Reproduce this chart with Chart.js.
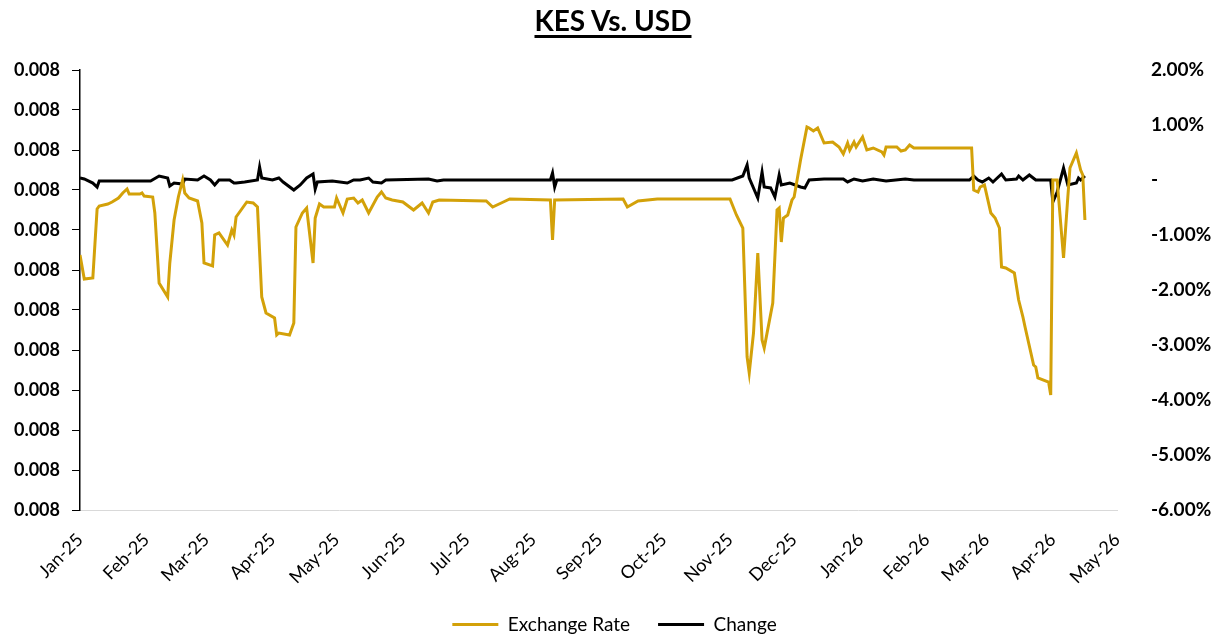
<!DOCTYPE html>
<html>
<head>
<meta charset="utf-8">
<script src="https://cdn.jsdelivr.net/npm/chart.js@4.4.1/dist/chart.umd.min.js"></script>
<style>
  html, body { margin: 0; padding: 0; background: #fff; }
  #wrap { position: relative; width: 1221px; height: 637px; }
  #title {
    position: absolute; left: 0; top: 3px; width: 1226px; text-align: center;
    font-family: Lato, "Open Sans", sans-serif; font-weight: bold; font-size: 28px;
    color: #000; text-decoration: underline; text-decoration-thickness: 3px;
    text-underline-offset: 4px;
  }
</style>
</head>
<body>
<div id="wrap">
  <div id="title">KES Vs. USD</div>
  <canvas id="chart" width="1221" height="637"></canvas>
</div>
<script>
// Month ticks on the x axis (days since 1 Jan 2025)
const monthDays = [0, 31, 59, 90, 120, 151, 181, 212, 243, 273, 304, 334, 365, 396, 424, 455, 485];
const monthLabels = ['Jan-25', 'Feb-25', 'Mar-25', 'Apr-25', 'May-25', 'Jun-25', 'Jul-25', 'Aug-25',
    'Sep-25', 'Oct-25', 'Nov-25', 'Dec-25', 'Jan-26', 'Feb-26', 'Mar-26', 'Apr-26', 'May-26'];

// Exchange rate (USD per KES)
const rateDays = [0, 2, 6, 8, 9, 13, 15, 18, 20, 22, 23, 28, 29, 30, 34, 35, 37, 41, 42, 44, 46, 48, 49, 51, 55,
    57, 58, 62, 63, 65, 69, 71, 72, 73, 78, 81, 83, 85, 87, 91, 92, 93, 98, 100, 101, 104, 106, 109, 110, 112,
    114, 119, 120, 123, 125, 128, 130, 132, 135, 139, 141, 143, 146, 151, 156, 160, 163, 165, 168, 190, 193,
    198, 201, 220, 221, 222, 254, 256, 261, 270, 304, 307, 310, 312, 313, 315, 317, 319, 320, 324, 326, 327,
    328, 329, 331, 333, 334, 337, 340, 341, 343, 345, 348, 352, 355, 357, 359, 360, 362, 363, 366, 368, 371,
    375, 376, 377, 382, 384, 386, 388, 390, 417, 418, 420, 421, 423, 426, 428, 430, 431, 433, 437, 439, 441,
    442, 446, 447, 448, 453, 454, 455, 457, 460, 462, 463, 466, 468, 469, 470];
const rateValues = [0.0077455, 0.0077431, 0.0077432, 0.0077501, 0.0077504, 0.0077506, 0.0077508, 0.0077512,
    0.0077517, 0.0077521, 0.0077516, 0.0077516, 0.0077517, 0.0077514, 0.0077513, 0.0077497, 0.0077427,
    0.0077413, 0.0077447, 0.0077490, 0.0077513, 0.0077530, 0.0077517, 0.0077512, 0.0077509, 0.0077487,
    0.0077447, 0.0077444, 0.0077475, 0.0077477, 0.0077465, 0.0077480, 0.0077475, 0.0077493, 0.0077508,
    0.0077507, 0.0077503, 0.0077413, 0.0077397, 0.0077392, 0.0077375, 0.0077377, 0.0077375, 0.0077387,
    0.0077483, 0.0077497, 0.0077502, 0.0077447, 0.0077492, 0.0077506, 0.0077503, 0.0077503, 0.0077512,
    0.0077497, 0.0077511, 0.0077512, 0.0077507, 0.0077510, 0.0077497, 0.0077513, 0.0077518, 0.0077512,
    0.0077510, 0.0077508, 0.0077500, 0.0077507, 0.0077497, 0.0077508, 0.0077510, 0.0077509, 0.0077503,
    0.0077508, 0.0077511, 0.0077510, 0.0077470, 0.0077510, 0.0077511, 0.0077503, 0.0077509, 0.0077511,
    0.0077511, 0.0077495, 0.0077482, 0.0077353, 0.0077337, 0.0077377, 0.0077457, 0.0077370, 0.0077362,
    0.0077407, 0.0077500, 0.0077502, 0.0077468, 0.0077492, 0.0077495, 0.0077510, 0.0077513, 0.0077550,
    0.0077583, 0.0077582, 0.0077579, 0.0077582, 0.0077567, 0.0077568, 0.0077563, 0.0077556, 0.0077567,
    0.0077560, 0.0077568, 0.0077563, 0.0077573, 0.0077560, 0.0077562, 0.0077558, 0.0077555, 0.0077563,
    0.0077563, 0.0077559, 0.0077560, 0.0077565, 0.0077562, 0.0077562, 0.0077520, 0.0077518, 0.0077523,
    0.0077525, 0.0077497, 0.0077492, 0.0077482, 0.0077443, 0.0077442, 0.0077437, 0.0077410, 0.0077393,
    0.0077383, 0.0077345, 0.0077343, 0.0077332, 0.0077328, 0.0077315, 0.0077530, 0.0077530, 0.0077452,
    0.0077513, 0.0077542, 0.0077557, 0.0077540, 0.0077535, 0.0077490];

// Daily change (fraction)
const changeDays = [0, 2, 6, 8, 9, 17, 33, 37, 41, 42, 44, 48, 49, 55, 58, 61, 63, 65, 70, 72, 73, 77, 83, 84,
    85, 90, 93, 95, 100, 103, 106, 109, 110, 111, 118, 125, 128, 131, 135, 137, 141, 143, 163, 167, 170, 220,
    221, 222, 223, 305, 310, 312, 313, 317, 319, 320, 323, 325, 327, 328, 332, 337, 339, 341, 348, 357, 359,
    362, 366, 371, 377, 386, 390, 416, 418, 420, 422, 425, 427, 431, 433, 438, 439, 441, 444, 447, 454, 455,
    457, 460, 462, 466, 467, 468, 470];
const changeValues = [0.00036, 0.00018, -0.00055, -0.00127, -0.00018, -0.00018, -0.00018, 0.00073, 0.00036,
    -0.00109, -0.00055, -0.00073, 0.00018, 0, 0.00073, 0, -0.00091, 0, 0, -0.00055, -0.00055, -0.00036, 0,
    0.00236, 0.00036, 0, 0.00036, -0.00036, -0.00182, -0.00091, 0.00036, 0.00109, -0.00164, -0.00036,
    -0.00018, -0.00055, 0, 0, 0.00036, -0.00036, -0.00055, 0, 0.00018, -0.00018, 0, 0, 0.00127, -0.00127, 0,
    0, 0.00073, 0.00273, 0.00036, -0.00327, 0.00145, -0.00127, -0.00145, -0.00309, 0.00091, -0.00091,
    -0.00055, -0.00127, -0.00145, 0, 0.00018, 0.00018, -0.00036, 0.00018, -0.00018, 0.00018, -0.00018,
    0.00018, 0, 0, 0.00073, 0, -0.00036, 0.00036, -0.00036, 0.00109, 0, 0.00018, 0.00073, 0, 0.00091, 0, 0,
    -0.004, -0.00218, 0.00218, -0.00091, -0.00055, 0.00036, 0, 0.00073];

const FONT = 'Lato, "Open Sans", sans-serif';

const ctx = document.getElementById('chart').getContext('2d');
const chart = new Chart(ctx, {
    type: 'line',
    data: {
        datasets: [{
            label: 'Exchange Rate',
            data: rateDays.map((d, i) => ({ x: d, y: rateValues[i] })),
            borderColor: '#D3A109',
            backgroundColor: '#D3A109',
            borderWidth: 3,
            pointRadius: 0,
            tension: 0,
            yAxisID: 'y'
        }, {
            label: 'Change',
            data: changeDays.map((d, i) => ({ x: d, y: changeValues[i] })),
            borderColor: '#000000',
            backgroundColor: '#000000',
            borderWidth: 3,
            pointRadius: 0,
            tension: 0,
            yAxisID: 'y1'
        }]
    },
    options: {
        responsive: false,
        animation: false,
        layout: { padding: { top: 70, left: 8, right: 0, bottom: -7 } },
        plugins: {
            legend: {
                position: 'bottom',
                labels: {
                    boxWidth: 46,
                    boxHeight: 0,
                    padding: 28,
                    color: '#000',
                    font: { family: FONT, size: 19 }
                }
            },
            tooltip: { enabled: false }
        },
        scales: {
            x: {
                type: 'linear',
                min: 0,
                max: 485,
                afterBuildTicks: (scale) => {
                    scale.ticks = monthDays.map(v => ({ value: v }));
                },
                afterFit: (scale) => { scale.height = 77; },
                grid: { display: false, drawTicks: false },
                border: { color: '#d9d9d9', width: 1 },
                ticks: {
                    autoSkip: false,
                    minRotation: 45,
                    maxRotation: 45,
                    color: '#000',
                    padding: 19,
                    font: { family: FONT, size: 18 },
                    callback: (value, index) => monthLabels[index]
                }
            },
            y: {
                position: 'left',
                min: 0.007720,
                max: 0.007764,
                afterFit: (scale) => { scale.width = 72; },
                grid: { display: true, drawOnChartArea: false, drawTicks: true, tickLength: 8, color: '#000' },
                border: { color: '#000', width: 1.5 },
                ticks: {
                    stepSize: 0.000004,
                    color: '#000',
                    padding: 12,
                    font: { family: FONT, size: 18, weight: 'bold' },
                    callback: (v) => v.toFixed(3)
                }
            },
            y1: {
                position: 'right',
                min: -0.06,
                max: 0.02,
                afterFit: (scale) => { scale.width = 104; },
                grid: { display: false, drawTicks: false },
                border: { display: false },
                ticks: {
                    stepSize: 0.01,
                    color: '#000',
                    padding: 34,
                    font: { family: FONT, size: 19, weight: 'bold' },
                    callback: (v) => {
                        const p = Math.round(v * 10000) / 100;
                        return p === 0 ? '-' : p.toFixed(2) + '%';
                    }
                }
            }
        }
    }
});
</script>
</body>
</html>
